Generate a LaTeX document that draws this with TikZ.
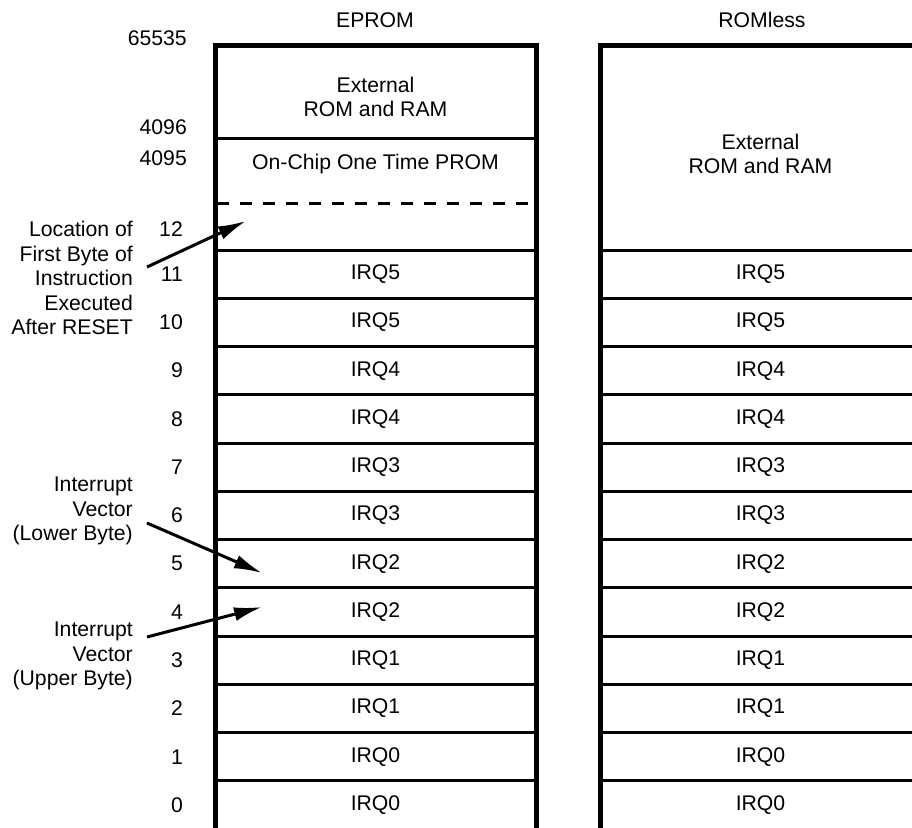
\documentclass[tikz,border=0pt]{standalone}
\usepackage{fontspec}
\setmainfont{Liberation Sans}
\usetikzlibrary{arrows.meta,positioning,calc}
\tikzset{
    wall/.style={line width=5pt, line join=miter},
    rowline/.style={line width=3pt},
    addr/.style={anchor=east, inner sep=0pt},
    cell/.style={align=center, inner sep=0pt},
    note/.style={align=right, anchor=east, inner sep=0pt},
    pointer/.style={-{Latex[length=28pt,width=14pt]}, line width=3pt}
}

\begin{document}
\begin{tikzpicture}[x=1pt, y=-1pt, font=\fontsize{21.2}{24.5}\selectfont]
    \useasboundingbox (0,0) rectangle (912,827);
    \clip (0,0) rectangle (912,827);

    % the two memory maps
    \draw[wall] (215,840) -- (215,45) -- (536,45) -- (536,840);
    \draw[wall] (600,840) -- (600,45) -- (921,45) -- (921,840);
    \draw[rowline] (215,138) -- (536,138);
    \draw[rowline, dash pattern=on 12pt off 11pt] (217,203) -- (530,203);

    \node[cell] (eprom) at (375,20) {EPROM};
    \node[cell] (romless) at (762,20) {ROMless};

    \node[addr] (top) at (187,38) {65535};
    \node[addr] (a4096) at (187,127) {4096};
    \node[addr] (a4095) at (187,158) {4095};
    \node[addr] (addr12) at (183,229) {12};

    \node[cell] (extL) at (375.5,97) {External\\ROM and RAM};
    \node[cell] (otp) at (375.5,164) {On-Chip One Time PROM};
    \node[cell] (extR) at (760.5,154) {External\\ROM and RAM};

    \foreach \a in {0,...,11}{
        \pgfmathsetmacro\ytop{250+(11-\a)*48.27}
        \pgfmathtruncatemacro\irq{int(\a/2)}
        \draw[rowline] (215,\ytop) -- (536,\ytop);
        \draw[rowline] (600,\ytop) -- (921,\ytop);
        \node[addr] (addr\a) at (183,\ytop+24.1) {\a};
        \node[cell] (irqL\a) at (375.5,\ytop+24.1) {IRQ\irq};
        \node[cell] (irqR\a) at (760.5,\ytop+24.1) {IRQ\irq};
    }

    % notes on the left
    \node[note] (resetnote) at (133,278) {Location of\\First Byte of\\Instruction\\Executed\\After RESET};
    \node[note] (lownote) at (133,511) {Interrupt\\Vector\\(Lower Byte)};
    \node[note] (upnote) at (133,656) {Interrupt\\Vector\\(Upper Byte)};

    \coordinate (resettail) at (147,267);
    \coordinate (resettip) at (246,221);
    \coordinate (lowtail) at (147,523);
    \coordinate (lowtip) at (262,573);
    \coordinate (uptail) at (147,637);
    \coordinate (uptip) at (262,607);

    \draw[pointer] (resettail) -- (resettip);
    \draw[pointer] (lowtail) -- (lowtip);
    \draw[pointer] (uptail) -- (uptip);
\end{tikzpicture}
\end{document}
